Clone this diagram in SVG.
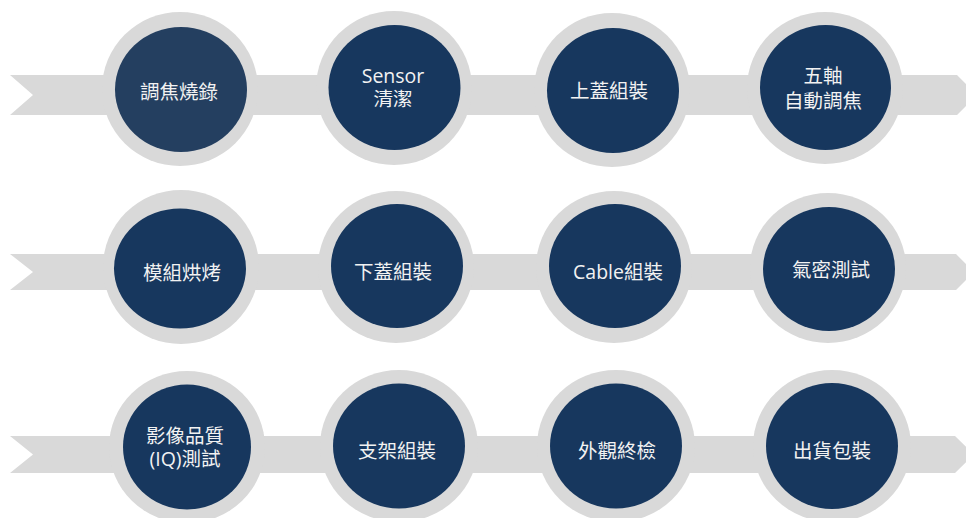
<svg xmlns="http://www.w3.org/2000/svg" width="966" height="518" viewBox="0 0 966 518">
<style>
.band{fill:#d9d9d9}
.ring{fill:#d9d9d9}
.core{fill:#17375e}
.core1{fill:#243f60}
.lbl{fill:#f2f2f2;font-family:"Open Sans","Noto Sans CJK TC",sans-serif;font-size:19.5px;text-anchor:middle}
</style>
<rect width="966" height="518" fill="#ffffff"/>
<g id="connectors">
<polygon class="band" points="10,75 957,75 977,95 957,115 10,115 33,95"/>
<polygon class="band" points="10,254 956,254 974,272 956,290 10,290 33,272"/>
<polygon class="band" points="10,436 955,436 974,454.5 955,473 10,473 33,454.5"/>
</g>
<g id="n1">
<ellipse class="ring" cx="180" cy="89" rx="78" ry="77"/>
<ellipse class="core1" cx="181" cy="89.5" rx="66" ry="62.5"/>
<text class="lbl" x="179" y="99">調焦燒錄</text>
</g>
<g id="n2">
<ellipse class="ring" cx="394" cy="88" rx="78" ry="77"/>
<ellipse class="core" cx="394.5" cy="87.5" rx="66" ry="62.5"/>
<text class="lbl" x="393" y="83">Sensor</text>
<text class="lbl" x="393" y="106">清潔</text>
</g>
<g id="n3">
<ellipse class="ring" cx="612" cy="90" rx="78" ry="77"/>
<ellipse class="core" cx="613" cy="90.5" rx="66" ry="62.5"/>
<text class="lbl" x="609" y="98">上蓋組裝</text>
</g>
<g id="n4">
<ellipse class="ring" cx="825" cy="88" rx="78" ry="76"/>
<ellipse class="core" cx="825.5" cy="87.5" rx="65.5" ry="62.5"/>
<text class="lbl" x="823" y="83">五軸</text>
<text class="lbl" x="823" y="108">自動調焦</text>
</g>
<g id="n5">
<ellipse class="ring" cx="181" cy="267" rx="78" ry="77"/>
<ellipse class="core" cx="180" cy="268.5" rx="66" ry="60"/>
<text class="lbl" x="182" y="280">模組烘烤</text>
</g>
<g id="n6">
<ellipse class="ring" cx="396" cy="267" rx="78" ry="76"/>
<ellipse class="core" cx="397" cy="266" rx="66" ry="62"/>
<text class="lbl" x="393" y="279">下蓋組裝</text>
</g>
<g id="n7">
<ellipse class="ring" cx="614" cy="267" rx="78" ry="76"/>
<ellipse class="core" cx="615" cy="266" rx="66" ry="62"/>
<text class="lbl" x="618" y="279">Cable組裝</text>
</g>
<g id="n8">
<ellipse class="ring" cx="828" cy="268" rx="78" ry="75"/>
<ellipse class="core" cx="829" cy="269" rx="66" ry="62"/>
<text class="lbl" x="831" y="277">氣密測試</text>
</g>
<g id="n9">
<ellipse class="ring" cx="187" cy="447" rx="78" ry="76"/>
<ellipse class="core" cx="187" cy="447" rx="64" ry="62.5"/>
<text class="lbl" x="185" y="443">影像品質</text>
<text class="lbl" x="185" y="466">(IQ)測試</text>
</g>
<g id="n10">
<ellipse class="ring" cx="399" cy="446" rx="79" ry="76"/>
<ellipse class="core" cx="399" cy="446" rx="66" ry="62.5"/>
<text class="lbl" x="397" y="458">支架組裝</text>
</g>
<g id="n11">
<ellipse class="ring" cx="616" cy="446" rx="79" ry="76"/>
<ellipse class="core" cx="616" cy="446" rx="66" ry="62.5"/>
<text class="lbl" x="617" y="458">外觀終檢</text>
</g>
<g id="n12">
<ellipse class="ring" cx="832" cy="446" rx="79" ry="76"/>
<ellipse class="core" cx="832" cy="446" rx="66" ry="63"/>
<text class="lbl" x="832" y="458">出貨包裝</text>
</g>
</svg>
